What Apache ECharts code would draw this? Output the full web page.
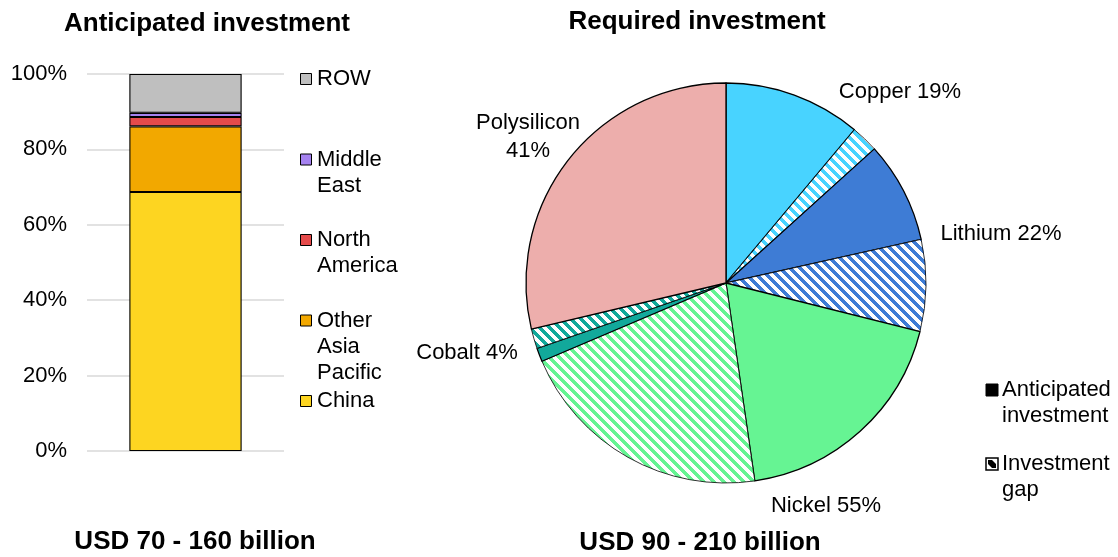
<!DOCTYPE html>
<html><head><meta charset="utf-8">
<script src="https://cdn.jsdelivr.net/npm/echarts@6/dist/echarts.min.js"></script>
<style>html,body{margin:0;padding:0;background:#fff}#c{width:1118px;height:557px}</style>
</head><body><div id="c"></div>
<script>
// ---- data ----
const regions = ['China', 'Other Asia Pacific', 'North America', 'Middle East', 'ROW'];
const regionShares = [68.7, 17.4, 2.5, 1.1, 10.3];
const yTicks = [0, 20, 40, 60, 80, 100];
const minerals = ['Copper', 'Lithium', 'Nickel', 'Cobalt', 'Polysilicon'];
const anticipatedShare = [11.1, 8.2, 18.8, 1.1, 28.7];
const gapShare = [2.2, 7.4, 20.9, 1.6, 0];
const mineralLabels = ['Copper 19%', 'Lithium 22%', 'Nickel 55%', 'Cobalt 4%', 'Polysilicon\n41%'];
const pieLegend = ['Anticipated\ninvestment', 'Investment\ngap'];
const barTitle = 'Anticipated investment';
const pieTitle = 'Required investment';
const barTotal = 'USD 70 - 160 billion';
const pieTotal = 'USD 90 - 210 billion';

// ---- styles ----
const FONT = "'Liberation Sans', Arial, sans-serif";
const regionColors = ['#FDD521', '#F2A800', '#E54B4B', '#A582F0', '#BFBFBF'];
const mineralColors = ['#48D3FF', '#3E7CD5', '#66F493', '#12A99B', '#EDAEAC'];

function hatch(color) {
  const P = 10;
  const c = document.createElement('canvas');
  c.width = P; c.height = P;
  const ctx = c.getContext('2d');
  ctx.fillStyle = '#fff'; ctx.fillRect(0, 0, P, P);
  ctx.fillStyle = color;
  for (let y = 0; y < P; y++) for (let x = 0; x < P; x++) {
    if ((((x - y) % P) + P) % P < 5) ctx.fillRect(x, y, 1, 1);
  }
  return { image: c, repeat: 'repeat' };
}

const pieData = [];
minerals.forEach((m, i) => {
  pieData.push({ name: m + ' anticipated', value: anticipatedShare[i],
    itemStyle: { color: mineralColors[i], borderColor: '#000', borderWidth: 1.3 } });
  if (gapShare[i] > 0) pieData.push({ name: m + ' gap', value: gapShare[i],
    itemStyle: { color: hatch(mineralColors[i]), borderColor: '#000', borderWidth: 0.8 } });
});

const barSeries = regions.map((r, i) => ({
  name: r, type: 'bar', stack: 'total', barWidth: '57%',
  data: [regionShares[i]],
  itemStyle: { color: regionColors[i], borderColor: '#000', borderWidth: 1.1 },
  emphasis: { disabled: true }
}));

// legend for bar (graphic)
const graphics = [];
const legendOrder = regions.map((r, i) => i).reverse();
legendOrder.forEach((idx, k) => {
  const cy = 79 + k * 80.5;
  graphics.push({ type: 'rect', left: 300, top: cy - 6, shape: { width: 11, height: 11 },
    style: { fill: regionColors[idx], stroke: '#000', lineWidth: 1 } });
  graphics.push({ type: 'text', left: 317, top: cy - 13,
    style: { text: regions[idx].replace(/ /g, '\n'), font: '22px ' + FONT, fill: '#000', lineHeight: 26 } });
});
// pie labels
const labelPos = [[900, 92], [1001, 234], [826, 506], [467, 353], [528, 123]];
mineralLabels.forEach((t, i) => {
  graphics.push({ type: 'text', x: labelPos[i][0], y: labelPos[i][1] - 14,
    style: { text: t, font: '22px ' + FONT, fill: '#000', align: 'center', lineHeight: 28 } });
});
// pie legend
graphics.push({ type: 'rect', x: 986, y: 384, shape: { width: 12, height: 12 },
  style: { fill: '#000', stroke: '#000', lineWidth: 1 } });
graphics.push({ type: 'group', x: 986, y: 458, children: [
  { type: 'rect', shape: { x: 0, y: 0, width: 12, height: 12 }, style: { fill: '#fff', stroke: '#000', lineWidth: 1.5 } },
  { type: 'polygon', shape: { points: [[2, 2], [6, 2], [10, 6], [10, 10], [6, 10], [2, 6]] }, style: { fill: '#000' } }
] });
graphics.push({ type: 'text', x: 1002, y: 390 - 13,
  style: { text: pieLegend[0], font: '22px ' + FONT, fill: '#000', lineHeight: 26 } });
graphics.push({ type: 'text', x: 1002, y: 464 - 13,
  style: { text: pieLegend[1], font: '22px ' + FONT, fill: '#000', lineHeight: 26 } });

const chart = echarts.init(document.getElementById('c'), null, { renderer: 'canvas' });
chart.setOption({
  animation: false,
  backgroundColor: '#fff',
  textStyle: { fontFamily: FONT },
  title: [
    { text: barTitle, left: 207, top: 10, textAlign: 'center', padding: 0,
      textStyle: { fontSize: 26, fontWeight: 'bold', color: '#000', fontFamily: FONT, lineHeight: 28 } },
    { text: pieTitle, left: 697, top: 8, textAlign: 'center', padding: 0,
      textStyle: { fontSize: 26, fontWeight: 'bold', color: '#000', fontFamily: FONT, lineHeight: 28 } },
    { text: barTotal, left: 195, top: 528, textAlign: 'center', padding: 0,
      textStyle: { fontSize: 26, fontWeight: 'bold', color: '#000', fontFamily: FONT, lineHeight: 28 } },
    { text: pieTotal, left: 700, top: 529, textAlign: 'center', padding: 0,
      textStyle: { fontSize: 26, fontWeight: 'bold', color: '#000', fontFamily: FONT, lineHeight: 28 } }
  ],
  grid: { left: 87, right: 1118 - 284, top: 74, bottom: 557 - 451, containLabel: false },
  xAxis: { type: 'category', data: [''], axisLine: { show: false }, axisTick: { show: false }, axisLabel: { show: false } },
  yAxis: {
    type: 'value', min: yTicks[0], max: yTicks[yTicks.length - 1], interval: yTicks[1] - yTicks[0],
    axisLine: { show: false }, axisTick: { show: false },
    axisLabel: { formatter: '{value}%', fontSize: 22, color: '#000', fontFamily: FONT, margin: 20 },
    splitLine: { lineStyle: { color: '#D9D9D9', width: 1.5 } }
  },
  series: barSeries.concat([{
    type: 'pie', center: [726, 283], radius: 200, startAngle: 90, clockwise: true,
    label: { show: false }, labelLine: { show: false }, emphasis: { disabled: true },
    data: pieData
  }]),
  graphic: graphics
});
</script></body></html>
